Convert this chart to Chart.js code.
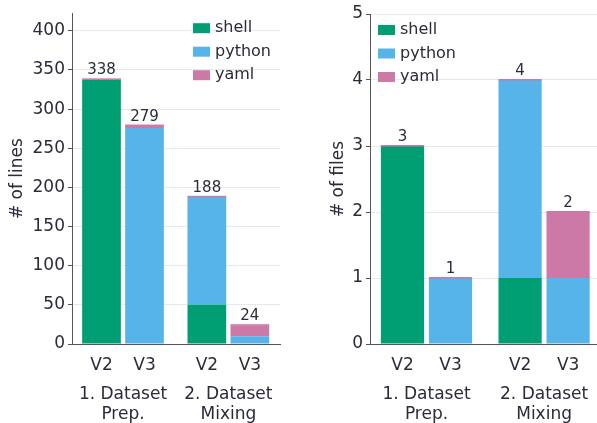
<!DOCTYPE html>
<html lang="en">
<head>
    <meta charset="UTF-8">
    <title>Lines and files per step</title>
    <script src="https://cdn.jsdelivr.net/npm/chart.js"></script>
    <style>
        html, body { margin: 0; padding: 0; background: #fff; overflow: hidden; }
        .box { position: absolute; top: 0; height: 423px; }
        #leftBox { left: 0; width: 300px; }
        #rightBox { left: 320px; width: 277px; }
    </style>
</head>
<body>

<div class="box" id="leftBox"><canvas id="linesChart"></canvas></div>
<div class="box" id="rightBox"><canvas id="filesChart"></canvas></div>

<script>
    // Data
    const versions = ["V2", "V3", "V2", "V3"];
    const groupLabels = [["1. Dataset", "Prep."], ["2. Dataset", "Mixing"]];
    const seriesNames = ["shell", "python", "yaml"];

    const linesShell  = [338, 0, 50, 0];
    const linesPython = [0, 276, 138, 10];
    const linesYaml   = [0, 3, 0, 14];

    const filesShell  = [3, 0, 1, 0];
    const filesPython = [0, 1, 3, 1];
    const filesYaml   = [0, 0, 0, 1];

    const linesTicks = [0, 50, 100, 150, 200, 250, 300, 350, 400];
    const filesTicks = [0, 1, 2, 3, 4, 5];

    // Layout: bar slots on a linear x scale (a wider gap between the two steps)
    const barPos = [0, 1, 2.45, 3.45];
    const groupPos = [(barPos[0] + barPos[1]) / 2, (barPos[2] + barPos[3]) / 2];

    const colors = ["#009E73", "#56B4E9", "#CC79A7"];
    const textColor = "#2b2b3b";
    const font = "DejaVu Sans";

    // Total labels above each stack + thin edge line on the top (yaml) segment
    const topLabels = {
        id: "topLabels",
        afterDatasetsDraw(chart) {
            const ctx = chart.ctx;
            const n = chart.data.datasets.length;
            const topMeta = chart.getDatasetMeta(n - 1);
            ctx.save();
            topMeta.data.forEach((el, i) => {
                let total = 0;
                chart.data.datasets.forEach(ds => total += ds.data[i].y);
                ctx.fillStyle = colors[2];
                ctx.fillRect(el.x - el.width / 2, el.y - 1, el.width, 1.5);
                ctx.fillStyle = textColor;
                ctx.font = "15px '" + font + "'";
                ctx.textAlign = "center";
                ctx.textBaseline = "alphabetic";
                ctx.fillText(String(total), el.x, el.y - 5);
            });
            ctx.restore();
        }
    };

    // Simple box legend inside the plot area
    function boxLegend(where) {
        return {
            id: "boxLegend",
            afterDraw(chart) {
                const ctx = chart.ctx;
                const area = chart.chartArea;
                const x = where === "right" ? area.right - 87 : area.left + 8;
                let y = area.top + (where === "right" ? 15 : 16);
                ctx.save();
                ctx.font = "16px '" + font + "'";
                ctx.textBaseline = "middle";
                chart.data.datasets.forEach((ds, i) => {
                    ctx.fillStyle = ds.backgroundColor;
                    ctx.fillRect(x, y - 5, 17, 10);
                    ctx.fillStyle = textColor;
                    ctx.fillText(ds.label, x + 22, y);
                    y += 23.5;
                });
                ctx.restore();
            }
        };
    }

    function makeChart(id, series, yTicks, yMax, yTitle, opts) {
        const datasets = series.map((vals, i) => ({
            label: seriesNames[i],
            data: vals.map((v, j) => ({ x: barPos[j], y: v })),
            backgroundColor: colors[i],
            borderWidth: 0,
            barPercentage: 0.9,
            categoryPercentage: 1
        }));

        return new Chart(document.getElementById(id), {
            type: "bar",
            data: { datasets },
            options: {
                responsive: true,
                maintainAspectRatio: false,
                animation: false,
                layout: { padding: { top: opts.top, right: opts.right, left: 0, bottom: 0 } },
                plugins: { legend: { display: false }, tooltip: { enabled: false } },
                scales: {
                    x: {
                        type: "linear",
                        stacked: true,
                        offset: false,
                        min: -opts.edge,
                        max: barPos[3] + opts.edgeRight,
                        afterBuildTicks: s => { s.ticks = barPos.map(v => ({ value: v })); },
                        afterFit: s => { s.height = 30; },
                        grid: { display: false, offset: false },
                        border: { display: true, color: "#555", width: 1 },
                        ticks: {
                            autoSkip: false, maxRotation: 0, padding: 3,
                            color: textColor, font: { family: font, size: 17 },
                            callback: (v, i) => versions[i]
                        }
                    },
                    x2: {
                        type: "linear",
                        position: "bottom",
                        offset: false,
                        min: -opts.edge,
                        max: barPos[3] + opts.edgeRight,
                        afterBuildTicks: s => { s.ticks = groupPos.map(v => ({ value: v })); },
                        afterFit: s => { s.height = 49; },
                        grid: { display: false, offset: false },
                        border: { display: false },
                        ticks: {
                            autoSkip: false, maxRotation: 0, padding: 3,
                            color: textColor, font: { family: font, size: 17, lineHeight: 1.15 },
                            callback: (v, i) => groupLabels[i]
                        }
                    },
                    y: {
                        stacked: true,
                        min: 0,
                        max: yMax,
                        afterBuildTicks: s => { s.ticks = yTicks.map(v => ({ value: v })); },
                        afterFit: s => { s.width = opts.yWidth; },
                        grid: { color: "#e8e8e8", tickColor: "#555", tickLength: 4 },
                        border: { display: true, color: "#555", width: 1 },
                        ticks: { padding: 3, color: textColor, font: { family: font, size: 17 } },
                        title: {
                            display: true, text: yTitle, color: textColor,
                            font: { family: font, size: 17 },
                            padding: { top: opts.titlePad, bottom: 0 }
                        }
                    }
                }
            },
            plugins: [topLabels, boxLegend(opts.legend)]
        });
    }

    makeChart("linesChart", [linesShell, linesPython, linesYaml], linesTicks, 422.5, "# of lines",
        { top: 7, right: 20, edge: 0.686, edgeRight: 0.701, yWidth: 72, titlePad: 7, legend: "right" });

    makeChart("filesChart", [filesShell, filesPython, filesYaml], filesTicks, 5, "# of files",
        { top: 14, right: 0, edge: 0.677, edgeRight: 0.602, yWidth: 50, titlePad: 8, legend: "left" });
</script>

</body>
</html>
